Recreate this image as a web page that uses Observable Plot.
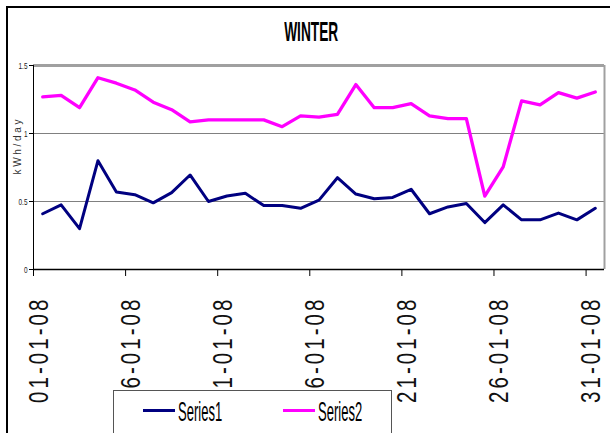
<!DOCTYPE html>
<html>
<head>
<meta charset="utf-8">
<script src="https://cdn.jsdelivr.net/npm/d3@7"></script>
<script src="https://cdn.jsdelivr.net/npm/@observablehq/plot@0.6"></script>
<style>
  body { margin: 0; background: #fff; overflow: hidden; }
  #wrap { position: relative; width: 610px; height: 433px; overflow: hidden; font-family: "Liberation Sans", Arial, sans-serif; background: #fff; }
  #chartborder { position: absolute; left: 6px; top: 6px; width: 700px; height: 500px; border-left: 2px solid #000; border-top: 2px solid #000; }
  #plot { position: absolute; left: 0; top: 0; }
  #title { position: absolute; left: 0; top: 18px; width: 623px; text-align: center; line-height: 28px; }
  #title span { display: inline-block; font-weight: bold; font-size: 28px; transform: scaleX(0.49); color: #000; }
  #legend { position: absolute; left: 113px; top: 390px; width: 277px; height: 60px; border: 1px solid #555; background: #fff; }
  .lg-line { position: absolute; height: 3px; }
  .lg-text { position: absolute; font-size: 28px; line-height: 28px; transform: scaleX(0.465); transform-origin: left center; color: #000; white-space: nowrap; }
</style>
</head>
<body>
<div id="wrap">
  <div id="chartborder"></div>
  <div id="plot"></div>
  <div id="title"><span></span></div>
  <div id="legend"></div>
</div>
<script>
// ---- data ----
const chartTitle = "WINTER";
const yTitle = "kWh/day";
const days = [1,2,3,4,5,6,7,8,9,10,11,12,13,14,15,16,17,18,19,20,21,22,23,24,25,26,27,28,29,30,31];
const series1 = [0.41,0.475,0.30,0.80,0.57,0.55,0.49,0.565,0.695,0.50,0.54,0.56,0.47,0.47,0.45,0.51,0.675,0.555,0.52,0.53,0.59,0.41,0.46,0.485,0.345,0.475,0.365,0.365,0.415,0.365,0.45];
const series2 = [1.27,1.28,1.19,1.41,1.37,1.32,1.23,1.175,1.085,1.10,1.10,1.10,1.10,1.05,1.13,1.12,1.14,1.36,1.19,1.19,1.22,1.13,1.11,1.11,0.54,0.755,1.24,1.21,1.30,1.26,1.305];
const seriesNames = ["Series1", "Series2"];
const xLabelDays = [1,6,11,16,21,26,31];
const xTickLabels = ["01-01-08","06-01-08","11-01-08","16-01-08","21-01-08","26-01-08","31-01-08"];
const yTicks = [0, 0.5, 1, 1.5];

// ---- derived tables ----
const rows1 = days.map((d, i) => ({day: d, value: series1[i], series: seriesNames[0]}));
const rows2 = days.map((d, i) => ({day: d, value: series2[i], series: seriesNames[1]}));
const xLabelRows = xLabelDays.map((d, i) => ({day: d, label: xTickLabels[i]}));
const boundaries = xLabelDays.map(d => d - 0.5);
const colors = {Series1: "#000080", Series2: "#ff00ff"};

const svg = Plot.plot({
  width: 610,
  height: 433,
  marginTop: 65,
  marginBottom: 164,
  marginLeft: 33,
  marginRight: 6,
  style: {background: "transparent", fontFamily: "'Liberation Sans', Arial, sans-serif", color: "#000"},
  x: {type: "linear", domain: [days[0] - 0.5, days[days.length - 1] + 0.5]},
  y: {domain: [yTicks[0], yTicks[yTicks.length - 1]]},
  marks: [
    Plot.ruleY([0.5, 1], {stroke: "#808080", strokeWidth: 1}),
    Plot.ruleY([1.5], {stroke: "#a0a0a0", strokeWidth: 3}),
    Plot.ruleX([days[days.length - 1] + 0.5], {stroke: "#a0a0a0", strokeWidth: 2}),
    Plot.lineY(rows1, {x: "day", y: "value", stroke: colors.Series1, strokeWidth: 3}),
    Plot.lineY(rows2, {x: "day", y: "value", stroke: colors.Series2, strokeWidth: 3.3}),
    Plot.ruleY([0], {stroke: "#000", strokeWidth: 1.5}),
    Plot.ruleX([days[0] - 0.5], {stroke: "#000", strokeWidth: 1}),
    Plot.axisY({ticks: yTicks, tickSize: 4, tickPadding: 2, fontSize: 9.5, tickFormat: d => String(d), label: null, fill: "#222"}),
    Plot.axisX({ticks: boundaries, tickSize: 7, tickFormat: () => "", label: null}),
    Plot.text(xLabelRows, {x: "day", text: "label", frameAnchor: "bottom", rotate: -90, textAnchor: "end", dx: 5, dy: 27, fontSize: 27, fill: "#111"}),
    Plot.text([yTitle], {text: d => d, frameAnchor: "left", rotate: -90, dx: -15.5, dy: 7, fontSize: 10, fill: "#333"})
  ]
});

function squeezeEl(t, sx, spacing) {
  const tr = t.getAttribute("transform");
  if (tr && sx !== 1) t.setAttribute("transform", tr + ` scale(${sx},1)`);
  if (spacing != null) t.style.letterSpacing = spacing + "px";
}
svg.querySelectorAll('g[aria-label="y-axis tick label"] text').forEach(t => squeezeEl(t, 0.68));
svg.querySelectorAll("text").forEach(t => {
  const c = t.textContent;
  if (xTickLabels.includes(c)) squeezeEl(t, 0.76, 4);
  else if (c === yTitle) squeezeEl(t, 1, 2.7);
});

document.getElementById("plot").appendChild(svg);
document.querySelector("#title span").textContent = chartTitle;

// legend
const wrap = document.getElementById("wrap");
const legendItems = [
  {name: seriesNames[0], lineLeft: 143, textLeft: 177.7},
  {name: seriesNames[1], lineLeft: 283, textLeft: 317.7}
];
legendItems.forEach(it => {
  const l = document.createElement("div");
  l.className = "lg-line";
  l.style.left = it.lineLeft + "px";
  l.style.top = "408.5px";
  l.style.width = "32px";
  l.style.background = colors[it.name];
  wrap.appendChild(l);
  const t = document.createElement("div");
  t.className = "lg-text";
  t.style.left = it.textLeft + "px";
  t.style.top = "398px";
  t.textContent = it.name;
  wrap.appendChild(t);
});
</script>
</body>
</html>
